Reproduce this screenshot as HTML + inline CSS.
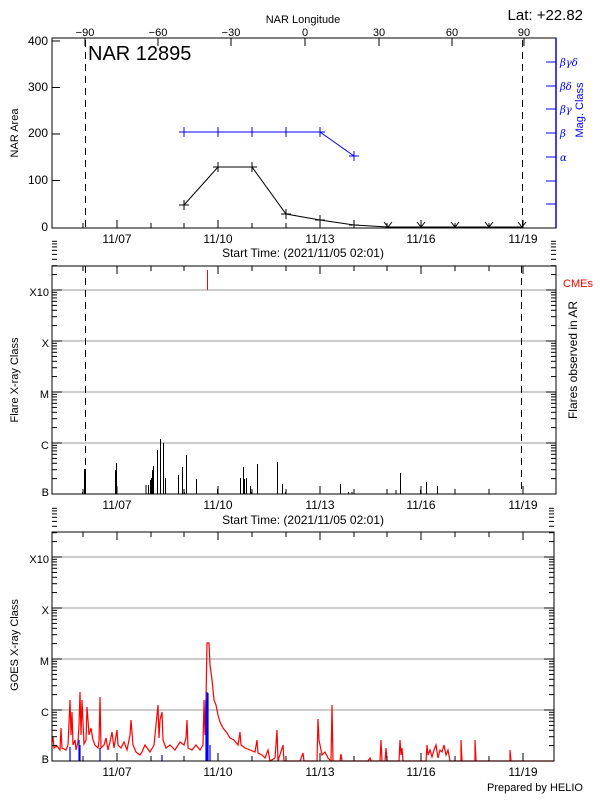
<!DOCTYPE html>
<html><head><meta charset="utf-8"><style>
html,body{margin:0;padding:0;background:#fff;}
svg{display:block;font-family:"Liberation Sans",sans-serif;}
</style></head><body>
<svg width="600" height="800" viewBox="0 0 600 800" xmlns="http://www.w3.org/2000/svg">
<defs>
<g id="decL" stroke="#000" stroke-width="1">
<line x1="0" y1="0" x2="10" y2="0"/>
<line x1="0" y1="-15.4" x2="5" y2="-15.4"/><line x1="0" y1="-24.3" x2="5" y2="-24.3"/><line x1="0" y1="-30.7" x2="5" y2="-30.7"/><line x1="0" y1="-35.6" x2="5" y2="-35.6"/><line x1="0" y1="-39.7" x2="5" y2="-39.7"/><line x1="0" y1="-43.1" x2="5" y2="-43.1"/><line x1="0" y1="-46.1" x2="5" y2="-46.1"/><line x1="0" y1="-48.7" x2="5" y2="-48.7"/>
</g>
<g id="decR" stroke="#000" stroke-width="1">
<line x1="0" y1="0" x2="-10" y2="0"/>
<line x1="0" y1="-15.4" x2="-5" y2="-15.4"/><line x1="0" y1="-24.3" x2="-5" y2="-24.3"/><line x1="0" y1="-30.7" x2="-5" y2="-30.7"/><line x1="0" y1="-35.6" x2="-5" y2="-35.6"/><line x1="0" y1="-39.7" x2="-5" y2="-39.7"/><line x1="0" y1="-43.1" x2="-5" y2="-43.1"/><line x1="0" y1="-46.1" x2="-5" y2="-46.1"/><line x1="0" y1="-48.7" x2="-5" y2="-48.7"/>
</g>
<g id="dayticks" stroke="#000" shape-rendering="crispEdges">
<line x1="83" y1="0" x2="83" y2="-5"/><line x1="117" y1="0" x2="117" y2="-8"/><line x1="151" y1="0" x2="151" y2="-5"/><line x1="184" y1="0" x2="184" y2="-5"/><line x1="218" y1="0" x2="218" y2="-8"/><line x1="252" y1="0" x2="252" y2="-5"/><line x1="286" y1="0" x2="286" y2="-5"/><line x1="320" y1="0" x2="320" y2="-8"/><line x1="354" y1="0" x2="354" y2="-5"/><line x1="387" y1="0" x2="387" y2="-5"/><line x1="421" y1="0" x2="421" y2="-8"/><line x1="455" y1="0" x2="455" y2="-5"/><line x1="489" y1="0" x2="489" y2="-5"/><line x1="523" y1="0" x2="523" y2="-8"/>
</g>
<g id="daytop" stroke="#000" shape-rendering="crispEdges">
<line x1="83" y1="0" x2="83" y2="5"/><line x1="117" y1="0" x2="117" y2="8"/><line x1="151" y1="0" x2="151" y2="5"/><line x1="184" y1="0" x2="184" y2="5"/><line x1="218" y1="0" x2="218" y2="8"/><line x1="252" y1="0" x2="252" y2="5"/><line x1="286" y1="0" x2="286" y2="5"/><line x1="320" y1="0" x2="320" y2="8"/><line x1="354" y1="0" x2="354" y2="5"/><line x1="387" y1="0" x2="387" y2="5"/><line x1="421" y1="0" x2="421" y2="8"/><line x1="455" y1="0" x2="455" y2="5"/><line x1="489" y1="0" x2="489" y2="5"/><line x1="523" y1="0" x2="523" y2="8"/>
</g>
</defs>

<!-- ===== TOP PANEL ===== -->
<text x="303" y="23" font-size="11" text-anchor="middle">NAR Longitude</text>
<text x="583" y="20" font-size="15" text-anchor="end">Lat: +22.82</text>
<g font-size="11" text-anchor="middle">
<text x="85" y="36">−90</text><text x="158" y="36">−60</text><text x="231" y="36">−30</text><text x="305" y="36">0</text><text x="379" y="36">30</text><text x="452" y="36">60</text><text x="524" y="36">90</text>
</g>
<g stroke="#000"><line x1="85" y1="38" x2="85" y2="46"/><line x1="158" y1="38" x2="158" y2="46"/><line x1="231" y1="38" x2="231" y2="46"/><line x1="305" y1="38" x2="305" y2="46"/><line x1="379" y1="38" x2="379" y2="46"/><line x1="452" y1="38" x2="452" y2="46"/><line x1="524" y1="38" x2="524" y2="46"/></g>
<rect x="52" y="38" width="504" height="190" fill="none" stroke="#000"/>
<line x1="556" y1="38" x2="556" y2="228" stroke="#00f" stroke-width="1.5"/>
<g font-size="12" text-anchor="end">
<text x="48" y="45">400</text><text x="48" y="91">300</text><text x="48" y="137">200</text><text x="48" y="184">100</text><text x="48" y="231">0</text>
</g>
<g stroke="#000"><line x1="52" y1="41" x2="60" y2="41"/><line x1="52" y1="87.5" x2="60" y2="87.5"/><line x1="52" y1="134" x2="60" y2="134"/><line x1="52" y1="180.5" x2="60" y2="180.5"/></g>
<use href="#dayticks" y="228"/>
<text transform="translate(18,133) rotate(-90)" font-size="11" text-anchor="middle">NAR Area</text>
<text x="88" y="60" font-size="20">NAR 12895</text>
<line x1="85.5" y1="40" x2="85.5" y2="228" stroke="#000" stroke-dasharray="7,5"/>
<line x1="522.5" y1="40" x2="522.5" y2="228" stroke="#000" stroke-dasharray="7,5"/>
<g stroke="#00f"><line x1="546" y1="62" x2="556" y2="62"/><line x1="546" y1="86" x2="556" y2="86"/><line x1="546" y1="109" x2="556" y2="109"/><line x1="546" y1="133" x2="556" y2="133"/><line x1="546" y1="157" x2="556" y2="157"/><line x1="546" y1="181" x2="556" y2="181"/><line x1="546" y1="204" x2="556" y2="204"/></g>
<g fill="#00f" font-size="10" font-style="italic" font-family="'DejaVu Serif',serif">
<text x="560" y="66">βγδ</text><text x="560" y="90">βδ</text><text x="560" y="113">βγ</text><text x="560" y="137">β</text><text x="560" y="161">α</text>
</g>
<text transform="translate(583,110) rotate(-90)" font-size="11" fill="#00f" text-anchor="middle">Mag. Class</text>
<polyline points="184,132 218,132 252,132 286,132 320,132 354,156" fill="none" stroke="#00f"/>
<g stroke="#00f" fill="none"><path d="M179,132h10M184,127v10M213,132h10M218,127v10M247,132h10M252,127v10M281,132h10M286,127v10M315,132h10M320,127v10M349,156h10M354,151v10"/></g>
<polyline points="184,205 218,167 252,167 286,214 320,220 354,225 388,227 421,227 455,227 489,227 522,227" fill="none" stroke="#000"/>
<g stroke="#000" fill="none"><path d="M179,205h10M184,200v10M213,167h10M218,162v10M247,167h10M252,162v10M281,214h10M286,209v10M315,220h10M320,215v10M349,225h10M354,220v8"/>
<path d="M384,222l4,5l4,-5M417,222l4,5l4,-5M451,222l4,5l4,-5M485,222l4,5l4,-5M518,222l4,5l4,-5"/></g>
<g font-size="12" text-anchor="middle">
<text x="117" y="243">11/07</text><text x="218" y="243">11/10</text><text x="320" y="243">11/13</text><text x="421" y="243">11/16</text><text x="523" y="243">11/19</text>
</g>
<text x="303" y="257" font-size="12" text-anchor="middle">Start Time: (2021/11/05 02:01)</text>

<!-- ===== MIDDLE PANEL ===== -->
<g stroke="#999"><line x1="52" y1="290" x2="556" y2="290"/><line x1="52" y1="341" x2="556" y2="341"/><line x1="52" y1="392" x2="556" y2="392"/><line x1="52" y1="443" x2="556" y2="443"/></g>
<rect x="52" y="266" width="504" height="228" fill="none" stroke="#000"/>
<use href="#decL" x="52" y="494"/><use href="#decL" x="52" y="443"/><use href="#decL" x="52" y="392"/><use href="#decL" x="52" y="341"/><use href="#decL" x="52" y="290"/>
<use href="#decR" x="556" y="494"/><use href="#decR" x="556" y="443"/><use href="#decR" x="556" y="392"/><use href="#decR" x="556" y="341"/><use href="#decR" x="556" y="290"/>
<use href="#dayticks" y="494"/><use href="#daytop" y="266"/>
<g font-size="11" text-anchor="end"><text x="49" y="296">X10</text><text x="49" y="347">X</text><text x="49" y="398">M</text><text x="49" y="449">C</text><text x="49" y="496">B</text></g>
<text transform="translate(18,380) rotate(-90)" font-size="11" text-anchor="middle">Flare X-ray Class</text>
<text transform="translate(577,360) rotate(-90)" font-size="12" text-anchor="middle">Flares observed in AR</text>
<text x="563" y="287" font-size="11" fill="#f00">CMEs</text>
<line x1="207.5" y1="270" x2="207.5" y2="290" stroke="#f00"/>
<line x1="85.5" y1="266" x2="85.5" y2="494" stroke="#000" stroke-dasharray="7,5"/>
<line x1="521.5" y1="266" x2="521.5" y2="494" stroke="#000" stroke-dasharray="7,5"/>
<path stroke="#000" stroke-width="1" fill="none" shape-rendering="crispEdges" d="M82.7,494V492M84.7,494V469M85.5,494V469M115.7,494V470M116.7,494V463M146,494V485M148.3,494V485M150.3,494V480M151.3,494V478M152.7,494V470M153.7,494V466M157.3,494V450M160.3,494V439M163.3,494V443M165.3,494V478M178.3,494V475M182.7,494V467M184.3,494V492M186.3,494V455M196.3,494V479M217.3,494V489M240.3,494V478M243.3,494V467M244.3,494V479M246.3,494V478M250.3,494V486M251.3,494V492M257.3,494V464M277.3,494V462M282.3,494V484M285.3,494V492M340.3,494V484M348.3,494V492M352,494V492M396,494V490M400.3,494V473M420.7,494V490M426.3,494V482M437.3,494V486"/>
<g font-size="12" text-anchor="middle">
<text x="117" y="509">11/07</text><text x="218" y="509">11/10</text><text x="320" y="509">11/13</text><text x="421" y="509">11/16</text><text x="523" y="509">11/19</text>
</g>
<text x="303" y="524" font-size="12" text-anchor="middle">Start Time: (2021/11/05 02:01)</text>

<!-- ===== BOTTOM PANEL ===== -->
<g stroke="#999"><line x1="52" y1="557" x2="554" y2="557"/><line x1="52" y1="608" x2="554" y2="608"/><line x1="52" y1="659" x2="554" y2="659"/><line x1="52" y1="710" x2="554" y2="710"/></g>
<polyline fill="none" stroke="#f00" stroke-width="1.2" points="52,742 53,737 54,748 57,746 60,750 61,728 62,748 66,750 68,745 70,700 71,735 72,712 73,745 75,740 76,750 78,742 79,725 80,692 81,735 82,700 84,744 86,740 87,707 88,720 89,735 91,728 93,740 95,745 98,748 99,741 100,697 101,748 104,745 106,738 108,750 110,742 112,732 114,748 117,730 118,745 121,748 124,742 127,750 130,735 131,720 133,745 136,752 140,755 142,752 145,745 150,752 154,745 158,705 159,738 160,720 162,712 163,740 166,748 170,745 175,750 180,742 184,745 186,738 187,720 188,748 192,750 196,745 200,750 203,745 204,700 205,735 206,700 207,643 209,643 210,665 212,680 214,700 216,705 218,715 220,722 223,728 227,733 230,738 234,740 238,745 240,732 241,745 245,748 250,750 255,752 257,740 258,753 262,755 265,758 268,750 270,761 275,758 277,730 278,761 283,745 284,761 300,761 303,753 304,761 317,761 318,719 319,740 320,745 322,755 325,752 328,758 331,761 332,705 333,761 340,761 341,754 342,761 368,761 370,758 371,761 380,761 381,740 382,761 385,761 386,748 387,761 399,761 400,740 401,755 402,748 403,761 426,761 427,745 428,755 430,750 432,757 434,750 436,745 438,758 440,750 442,752 444,745 446,755 448,750 450,761 461,761 461,740 462,761 475,761 475,740 476,761 510,761 510,750 511,761 554,761"/>
<path stroke="#00f" stroke-width="1.2" fill="none" d="M70,761V747M79,761V740M80,761V745M100,761V748M162,761V755M206,761V700M207,761V692M208,761V693M210,761V745"/>
<rect x="52" y="532" width="502" height="229" fill="none" stroke="#000"/>
<use href="#decL" x="52" y="761"/><use href="#decL" x="52" y="710"/><use href="#decL" x="52" y="659"/><use href="#decL" x="52" y="608"/><use href="#decL" x="52" y="557"/>
<use href="#decR" x="554" y="761"/><use href="#decR" x="554" y="710"/><use href="#decR" x="554" y="659"/><use href="#decR" x="554" y="608"/><use href="#decR" x="554" y="557"/>
<use href="#dayticks" y="761"/><use href="#daytop" y="532"/>
<g font-size="11" text-anchor="end"><text x="49" y="563">X10</text><text x="49" y="614">X</text><text x="49" y="665">M</text><text x="49" y="716">C</text><text x="49" y="763">B</text></g>
<text transform="translate(18,645) rotate(-90)" font-size="11" text-anchor="middle">GOES X-ray Class</text>
<g font-size="12" text-anchor="middle">
<text x="117" y="776">11/07</text><text x="218" y="776">11/10</text><text x="320" y="776">11/13</text><text x="421" y="776">11/16</text><text x="523" y="776">11/19</text>
</g>
<text x="583" y="791" font-size="11" text-anchor="end">Prepared by HELIO</text>
</svg>
</body></html>
